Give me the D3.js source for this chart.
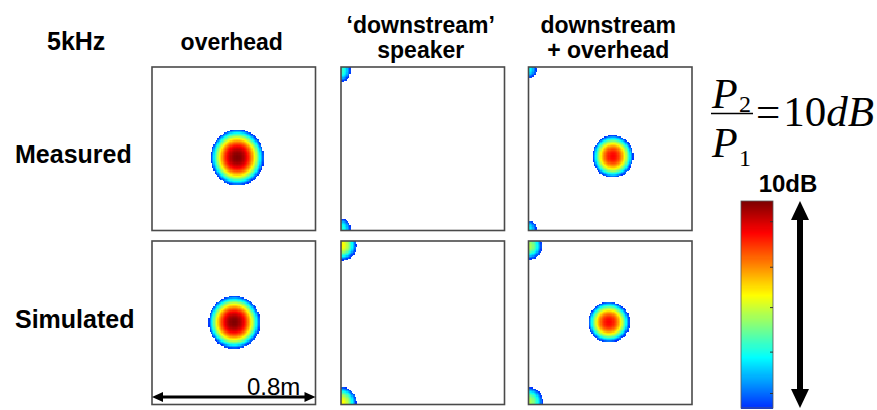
<!DOCTYPE html>
<html>
<head>
<meta charset="utf-8">
<script src="https://cdn.jsdelivr.net/npm/d3@7"></script>
<style>
  html, body { margin: 0; padding: 0; background: #fff; }
  svg { display: block; }
</style>
</head>
<body>
<svg id="chart" width="877" height="410"></svg>
<script>
// ---- Data -------------------------------------------------------------
// Column and row headings
const columns = [["overhead"], ["\u2018downstream\u2019", "speaker"], ["downstream", "+ overhead"]];
const rows = ["Measured", "Simulated"];
const frequencyLabel = "5kHz";

// Measurement plane is 0.8 m x 0.8 m (x from the left edge, y from the top edge)
const planeSize = 0.8;
const gridStep = 0.0064;             // m per map cell

// Sound-level sources per panel: centre (m), radii (m), peak level (dB above 0)
const measuredOverhead = [{cx: 0.417, cy: 0.442, rx: 0.128, ry: 0.137, peak: 10}];
const measuredDownstream = [
  {cx: 0.0, cy: 0.018, rx: 0.044, ry: 0.052, peak: 3.2},
  {cx: 0.0, cy: 0.790, rx: 0.044, ry: 0.048, peak: 3.0}
];
const measuredCombined = [
  {cx: 0.412, cy: 0.437, rx: 0.098, ry: 0.103, peak: 8.5},
  {cx: 0.0, cy: 0.012, rx: 0.036, ry: 0.040, peak: 2.6},
  {cx: 0.0, cy: 0.792, rx: 0.036, ry: 0.040, peak: 2.6}
];
const simulatedOverhead = [{cx: 0.402, cy: 0.397, rx: 0.125, ry: 0.128, peak: 10}];
const simulatedDownstream = [
  {cx: 0.0, cy: 0.020, rx: 0.074, ry: 0.074, peak: 5.6},
  {cx: 0.0, cy: 0.790, rx: 0.074, ry: 0.074, peak: 5.6}
];
const simulatedCombined = [
  {cx: 0.393, cy: 0.397, rx: 0.100, ry: 0.098, peak: 8.5},
  {cx: 0.0, cy: 0.024, rx: 0.064, ry: 0.064, peak: 4.6},
  {cx: 0.0, cy: 0.786, rx: 0.068, ry: 0.068, peak: 4.6}
];
const panelSources = [
  [measuredOverhead, measuredDownstream, measuredCombined],
  [simulatedOverhead, simulatedDownstream, simulatedCombined]
];

// Colour bar: 0..10 dB, with small unlabelled tick marks
const levelDomain = [0, 10];
const colorbarTicks = [0.7, 2.7, 4.85, 6.8, 9.0];
const colorbarLabel = "10dB";
const scaleLabel = "0.8m";

// ---- Layout -----------------------------------------------------------
const colX = [152, 341, 528.5];
const rowY = [67, 241];
const panelW = 163.5, panelH = 163.5;

const svg = d3.select("#chart");

// Jet colormap, starting from blue (lowest part of jet is not used)
function jet(t) {
  const c = v => Math.max(0, Math.min(1, v));
  const r = c(1.5 - Math.abs(4 * t - 3));
  const g = c(1.5 - Math.abs(4 * t - 2));
  const b = c(1.5 - Math.abs(4 * t - 1));
  return d3.rgb(r * 255, g * 255, b * 255).formatHex();
}
const tScale = d3.scaleLinear().domain(levelDomain).range([0.17, 1]).clamp(true);
const color = v => jet(tScale(v));

// Level field of one panel: strongest contribution of its sources
function level(sources, x, y) {
  let best = -Infinity;
  for (const s of sources) {
    const d2 = ((x - s.cx) / s.rx) ** 2 + ((y - s.cy) / s.ry) ** 2;
    best = Math.max(best, s.peak * (1 - d2));
  }
  return best;
}

const nCells = Math.round(planeSize / gridStep);
const cellCentres = d3.range(nCells).map(i => (i + 0.5) * gridStep);

rows.forEach((rowName, ri) => {
  columns.forEach((col, ci) => {
    const x = d3.scaleLinear().domain([0, planeSize]).range([colX[ci], colX[ci] + panelW]);
    const y = d3.scaleLinear().domain([0, planeSize]).range([rowY[ri], rowY[ri] + panelH]);
    const sources = panelSources[ri][ci];
    const cells = [];
    for (const cy of cellCentres) {
      for (const cx of cellCentres) {
        const v = level(sources, cx, cy);
        if (v >= 0) cells.push({x: cx, y: cy, v});
      }
    }
    const g = svg.append("g");
    g.append("rect")
      .attr("x", x(0)).attr("y", y(0))
      .attr("width", panelW).attr("height", panelH)
      .attr("fill", "#fff");
    const cw = x(gridStep) - x(0);
    g.append("g").attr("shape-rendering", "crispEdges")
      .selectAll("rect").data(cells).join("rect")
      .attr("x", d => x(d.x - gridStep / 2))
      .attr("y", d => y(d.y - gridStep / 2))
      .attr("width", cw + 0.6)
      .attr("height", cw + 0.6)
      .attr("fill", d => color(d.v));
    g.append("rect")
      .attr("x", x(0)).attr("y", y(0))
      .attr("width", panelW).attr("height", panelH)
      .attr("fill", "none")
      .attr("stroke", "#4a4a4a")
      .attr("stroke-width", 1.6);
  });
});

// ---- Headings -----------------------------------------------------------
const bold = sel => sel.attr("font-family", "'Liberation Sans', Arial, sans-serif")
  .attr("font-weight", "bold").attr("fill", "#000");

bold(svg.append("text").attr("x", 47).attr("y", 50).attr("font-size", 25).text(frequencyLabel));

columns.forEach((lines, ci) => {
  const cx = colX[ci] + panelW / 2 - 2;
  const baselines = lines.length === 1 ? [50] : [33, 58];
  lines.forEach((line, li) => {
    bold(svg.append("text")
      .attr("x", cx).attr("y", baselines[li])
      .attr("text-anchor", "middle")
      .attr("font-size", 23)
      .text(line));
  });
});

const rowBaselines = [163, 328];
rows.forEach((r, ri) => {
  bold(svg.append("text").attr("x", 15).attr("y", rowBaselines[ri]).attr("font-size", 25).text(r));
});

// ---- Equation P2 / P1 = 10dB ------------------------------------------
const serif = "'Liberation Serif', 'Times New Roman', serif";
const eq = svg.append("g").attr("font-family", serif).attr("fill", "#000");
eq.append("text").attr("x", 712).attr("y", 108).attr("font-size", 42).attr("font-style", "italic").text("P");
eq.append("text").attr("x", 739).attr("y", 112).attr("font-size", 24).text("2");
eq.append("line").attr("x1", 711).attr("x2", 753).attr("y1", 113.5).attr("y2", 113.5)
  .attr("stroke", "#000").attr("stroke-width", 1.6);
eq.append("text").attr("x", 712).attr("y", 157).attr("font-size", 42).attr("font-style", "italic").text("P");
eq.append("text").attr("x", 739).attr("y", 166).attr("font-size", 24).text("1");
const rhs = eq.append("text").attr("x", 756).attr("y", 126).attr("font-size", 43);
rhs.append("tspan").text("=");
rhs.append("tspan").attr("dx", 3).text("10");
rhs.append("tspan").attr("font-style", "italic").text("dB");

// ---- Colour bar ---------------------------------------------------------
const cbX = 741, cbW = 32;
const cbY = d3.scaleLinear().domain(levelDomain).range([408, 201]);
const cbSteps = d3.range(levelDomain[0], levelDomain[1], 0.05);
svg.append("g").attr("shape-rendering", "crispEdges")
  .selectAll("rect").data(cbSteps).join("rect")
  .attr("x", cbX).attr("width", cbW)
  .attr("y", d => cbY(d + 0.05))
  .attr("height", d => cbY(d) - cbY(d + 0.05) + 0.6)
  .attr("fill", d => color(d + 0.025));
svg.append("rect").attr("x", cbX).attr("y", cbY(10)).attr("width", cbW)
  .attr("height", cbY(0) - cbY(10)).attr("fill", "none")
  .attr("stroke", "#555").attr("stroke-width", 0.8);
svg.append("g").selectAll("line").data(colorbarTicks).join("line")
  .attr("x1", cbX + cbW - 3).attr("x2", cbX + cbW)
  .attr("y1", d => cbY(d)).attr("y2", d => cbY(d))
  .attr("stroke", "#333").attr("stroke-width", 1);
bold(svg.append("text").attr("x", 788).attr("y", 192).attr("text-anchor", "middle")
  .attr("font-size", 24).text(colorbarLabel));

// Vertical double arrow spanning the colour range
const ax = 800;
svg.append("line").attr("x1", ax).attr("x2", ax).attr("y1", cbY(10) + 14).attr("y2", cbY(0) - 14)
  .attr("stroke", "#000").attr("stroke-width", 6);
svg.append("path").attr("d", `M${ax},${cbY(10)} l-9,19 h18 Z`).attr("fill", "#000");
svg.append("path").attr("d", `M${ax},${cbY(0)} l-9,-19 h18 Z`).attr("fill", "#000");

// ---- Scale bar under the first simulated panel -------------------------
const sx = d3.scaleLinear().domain([0, planeSize]).range([colX[0], colX[0] + panelW]);
const sy = 397;
svg.append("line").attr("x1", sx(0) + 8).attr("x2", sx(planeSize) - 8).attr("y1", sy).attr("y2", sy)
  .attr("stroke", "#000").attr("stroke-width", 3);
svg.append("path").attr("d", `M${sx(0)},${sy} l11,-5 v10 Z`).attr("fill", "#000");
svg.append("path").attr("d", `M${sx(planeSize)},${sy} l-11,-5 v10 Z`).attr("fill", "#000");
svg.append("text").attr("x", 247).attr("y", 395).attr("font-size", 24)
  .attr("font-family", "'Liberation Sans', Arial, sans-serif").attr("fill", "#000").text(scaleLabel);
</script>
</body>
</html>
